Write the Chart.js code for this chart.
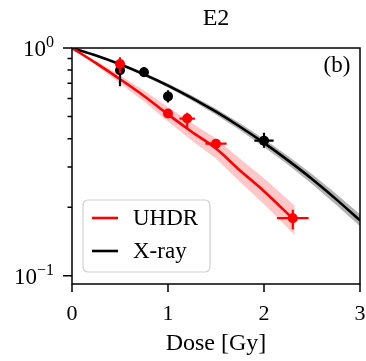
<!DOCTYPE html>
<html>
<head>
<meta charset="utf-8">
<script src="https://cdn.jsdelivr.net/npm/chart.js@4.4.0/dist/chart.umd.min.js"></script>
<style>
html, body { margin: 0; padding: 0; background: #fff; }
</style>
</head>
<body>
<canvas id="survivalChart" width="366" height="361"></canvas>
<script>
// Puntos medidos
const uhdrDose = [0.5, 1.0, 1.2, 1.5, 2.3];
const uhdrSurv = [0.85, 0.516, 0.49, 0.38, 0.179];
const uhdrDoseErr = [0.02, 0.03, 0.08, 0.11, 0.165];
const uhdrSurvLo = [0.775, 0.50, 0.447, 0.37, 0.16];
const uhdrSurvHi = [0.91, 0.535, 0.52, 0.39, 0.195];

const xrayDose = [0.5, 0.75, 1.0, 2.0];
const xraySurv = [0.799, 0.783, 0.613, 0.392];
const xrayDoseErr = [0.02, 0.03, 0.02, 0.1];
const xraySurvLo = [0.68, 0.745, 0.577, 0.365];
const xraySurvHi = [0.86, 0.825, 0.652, 0.425];

// Curvas de ajuste y bandas
const uhdrFitDose = [0, 0.25, 0.5, 0.75, 1.0, 1.25, 1.5, 1.75, 2.0, 2.32];
const uhdrFit = [1, 0.858, 0.73, 0.616, 0.511, 0.428, 0.362, 0.29, 0.235, 0.175];
const uhdrBandHi = [1, 0.876, 0.760, 0.651, 0.549, 0.467, 0.401, 0.326, 0.268, 0.203];
const uhdrBandLo = [1, 0.841, 0.701, 0.582, 0.476, 0.392, 0.327, 0.258, 0.206, 0.151];

const xrayFitDose = [0, 0.25, 0.5, 0.75, 1.0, 1.25, 1.5, 1.75, 2.0, 2.25, 2.5, 2.75, 3.0];
const xrayFit = [1, 0.927, 0.848, 0.766, 0.684, 0.603, 0.525, 0.451, 0.383, 0.321, 0.266, 0.217, 0.175];
const xrayBandHi = [1, 0.932, 0.857, 0.778, 0.698, 0.618, 0.541, 0.467, 0.399, 0.336, 0.280, 0.229, 0.186];
const xrayBandLo = [1, 0.922, 0.840, 0.754, 0.670, 0.588, 0.509, 0.435, 0.368, 0.307, 0.253, 0.205, 0.165];

// Ejes
const xTicks = [0, 1, 2, 3];
const xTickLabels = ['0', '1', '2', '3'];
const yMajorTicks = [1, 0.1];
const yMajorExp = ['0', '\u22121'];
const yMinorTicks = [0.2, 0.3, 0.4, 0.5, 0.6, 0.7, 0.8, 0.9];

const seriesLabels = ['UHDR', 'X-ray'];
const RED = '#ff0000';
const BLACK = '#000000';
const FONT = "'Liberation Serif', 'Times New Roman', serif";

function pts(xs, ys) {
    return xs.map((v, i) => ({ x: v, y: ys[i] }));
}

function drawErrorBars(ctx, x, y, dose, surv, dErr, lo, hi, color) {
    ctx.save();
    ctx.strokeStyle = color;
    ctx.lineWidth = 2.2;
    dose.forEach((d, i) => {
        const px = x.getPixelForValue(d);
        const py = y.getPixelForValue(surv[i]);
        ctx.beginPath();
        ctx.moveTo(x.getPixelForValue(d - dErr[i]), py);
        ctx.lineTo(x.getPixelForValue(d + dErr[i]), py);
        ctx.moveTo(px, y.getPixelForValue(lo[i]));
        ctx.lineTo(px, y.getPixelForValue(hi[i]));
        ctx.stroke();
    });
    ctx.restore();
}

const decorations = {
    id: 'decorations',
    afterDatasetDraw(chart, args) {
        const { ctx, scales: { x, y } } = chart;
        if (args.index === 6) {
            drawErrorBars(ctx, x, y, uhdrDose, uhdrSurv, uhdrDoseErr, uhdrSurvLo, uhdrSurvHi, RED);
        } else if (args.index === 7) {
            drawErrorBars(ctx, x, y, xrayDose, xraySurv, xrayDoseErr, xraySurvLo, xraySurvHi, BLACK);
        }
    },
    afterDraw(chart) {
        const { ctx, chartArea: a, scales: { x, y } } = chart;
        ctx.save();
        // marco
        ctx.strokeStyle = BLACK;
        ctx.lineWidth = 1.5;
        ctx.strokeRect(a.left, a.top, a.right - a.left, a.bottom - a.top);

        // marcas del eje x
        ctx.beginPath();
        xTicks.forEach(v => {
            const px = x.getPixelForValue(v);
            ctx.moveTo(px, a.bottom);
            ctx.lineTo(px, a.bottom + 8);
        });
        // marcas del eje y
        yMajorTicks.forEach(v => {
            const py = y.getPixelForValue(v);
            ctx.moveTo(a.left, py);
            ctx.lineTo(a.left - 9, py);
        });
        yMinorTicks.forEach(v => {
            const py = y.getPixelForValue(v);
            ctx.moveTo(a.left, py);
            ctx.lineTo(a.left - 4.5, py);
        });
        ctx.stroke();

        // etiquetas y con exponente
        ctx.fillStyle = BLACK;
        ctx.textBaseline = 'alphabetic';
        yMajorTicks.forEach((v, i) => {
            const py = y.getPixelForValue(v);
            ctx.font = '23px ' + FONT;
            const wBase = ctx.measureText('10').width;
            ctx.font = '16px ' + FONT;
            const wExp = ctx.measureText(yMajorExp[i]).width;
            const x0 = a.left - 18 - wBase - wExp;
            ctx.font = '23px ' + FONT;
            ctx.textAlign = 'left';
            ctx.fillText('10', x0, py + 8);
            ctx.font = '16px ' + FONT;
            ctx.fillText(yMajorExp[i], x0 + wBase, py - 1);
        });

        // título y letra del panel
        ctx.textAlign = 'center';
        ctx.textBaseline = 'middle';
        ctx.font = '24px ' + FONT;
        ctx.fillText('E2', (a.left + a.right) / 2, 19);
        ctx.font = '23px ' + FONT;
        ctx.fillText('(b)', 337, 66);

        // leyenda
        const lx = 83, ly = 200, lw = 127, lh = 72;
        ctx.beginPath();
        ctx.roundRect(lx, ly, lw, lh, 5);
        ctx.fillStyle = 'rgba(255,255,255,0.85)';
        ctx.fill();
        ctx.strokeStyle = '#d0d0d0';
        ctx.lineWidth = 1.2;
        ctx.stroke();
        [RED, BLACK].forEach((c, i) => {
            const yy = ly + 18 + i * 33;
            ctx.strokeStyle = c;
            ctx.lineWidth = 2.6;
            ctx.beginPath();
            ctx.moveTo(lx + 9, yy);
            ctx.lineTo(lx + 35, yy);
            ctx.stroke();
            ctx.fillStyle = BLACK;
            ctx.textAlign = 'left';
            ctx.font = '23px ' + FONT;
            ctx.fillText(seriesLabels[i], lx + 50, yy + 1);
        });
        ctx.restore();
    }
};

const ctx = document.getElementById('survivalChart').getContext('2d');
const survivalChart = new Chart(ctx, {
    type: 'line',
    data: {
        datasets: [
            { data: pts(uhdrFitDose, uhdrBandHi), borderWidth: 0, pointRadius: 0, fill: false, order: 3 },
            { data: pts(uhdrFitDose, uhdrBandLo), borderWidth: 0, pointRadius: 0, fill: 0,
              backgroundColor: 'rgba(255,0,0,0.22)', order: 3 },
            { data: pts(xrayFitDose, xrayBandHi), borderWidth: 0, pointRadius: 0, fill: false, order: 3 },
            { data: pts(xrayFitDose, xrayBandLo), borderWidth: 0, pointRadius: 0, fill: 2,
              backgroundColor: 'rgba(0,0,0,0.3)', order: 3 },
            { label: seriesLabels[0], data: pts(uhdrFitDose, uhdrFit), borderColor: RED, borderWidth: 2.6,
              pointRadius: 0, fill: false, cubicInterpolationMode: 'monotone', order: 1 },
            { label: seriesLabels[1], data: pts(xrayFitDose, xrayFit), borderColor: BLACK, borderWidth: 2.6,
              pointRadius: 0, fill: false, cubicInterpolationMode: 'monotone', order: 2 },
            { data: pts(uhdrDose, uhdrSurv), showLine: false, pointRadius: 5, pointBackgroundColor: RED,
              pointBorderWidth: 0, order: 0 },
            { data: pts(xrayDose, xraySurv), showLine: false, pointRadius: 5, pointBackgroundColor: BLACK,
              pointBorderWidth: 0, order: 0 }
        ]
    },
    options: {
        responsive: false,
        animation: false,
        layout: { padding: { top: 48, right: 6, left: 0, bottom: 0 } },
        plugins: {
            legend: { display: false },
            tooltip: { enabled: false }
        },
        scales: {
            x: {
                type: 'linear',
                min: 0,
                max: 3,
                afterFit(s) {
                    s.height = 77;
                    s.paddingLeft = 0;
                    s.paddingRight = 0;
                },
                grid: { display: false, drawTicks: false },
                border: { display: false },
                ticks: {
                    stepSize: 1,
                    color: BLACK,
                    padding: 17,
                    font: { family: FONT, size: 22 },
                    callback: (v) => xTickLabels[xTicks.indexOf(v)] ?? ''
                },
                title: {
                    display: true,
                    text: 'Dose [Gy]',
                    color: BLACK,
                    font: { family: FONT, size: 24 },
                    padding: { top: 0, bottom: 3 }
                }
            },
            y: {
                type: 'logarithmic',
                min: 0.092,
                max: 1,
                afterFit(s) { s.width = 72; },
                grid: { display: false, drawTicks: false },
                border: { display: false },
                ticks: { display: false }
            }
        }
    },
    plugins: [decorations]
});
</script>
</body>
</html>
